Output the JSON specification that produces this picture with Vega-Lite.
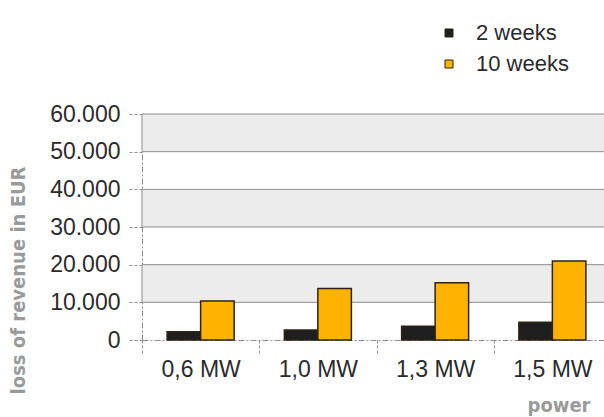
{
  "$schema": "https://vega.github.io/schema/vega-lite/v6.json",
  "width": 469,
  "height": 226,
  "autosize": "none",
  "padding": {"left": 142, "top": 114, "right": 0, "bottom": 77},
  "background": "white",
  "config": {
    "view": {"stroke": null},
    "font": "Liberation Sans",
    "axis": {
      "labelOverlap": false,
      "labelFontSize": 23,
      "labelColor": "#2b2b2b",
      "titleFont": "DejaVu Sans Condensed",
      "titleFontWeight": "bold",
      "titleFontSize": 20,
      "titleColor": "#9a9a9a",
      "tickColor": "#8e8e8e",
      "tickDash": [3, 2],
      "domainColor": "#8e8e8e",
      "domainDash": [6, 2, 2, 2],
      "grid": false
    }
  },
  "datasets": {
    "bands": [
      {"lo": 10000, "hi": 20000},
      {"lo": 30000, "hi": 40000},
      {"lo": 50000, "hi": 60000}
    ],
    "loss": [
      {"power": "0,6 MW", "duration": "2 weeks", "value": 2200},
      {"power": "0,6 MW", "duration": "10 weeks", "value": 10350},
      {"power": "1,0 MW", "duration": "2 weeks", "value": 2650},
      {"power": "1,0 MW", "duration": "10 weeks", "value": 13700},
      {"power": "1,3 MW", "duration": "2 weeks", "value": 3630},
      {"power": "1,3 MW", "duration": "10 weeks", "value": 15200},
      {"power": "1,5 MW", "duration": "2 weeks", "value": 4700},
      {"power": "1,5 MW", "duration": "10 weeks", "value": 20950}
    ]
  },
  "layer": [
    {
      "data": {"name": "bands"},
      "mark": {"type": "rect", "fill": "#ececec", "stroke": "#8e8e8e", "strokeWidth": 1},
      "encoding": {
        "y": {
          "field": "lo",
          "type": "quantitative",
          "scale": {"domain": [0, 60000]},
          "axis": {
            "title": "loss of revenue in EUR",
            "titleAngle": -90,
            "titleAlign": "center",
            "titleBaseline": "middle",
            "titleAnchor": null,
            "titleX": -124,
            "titleY": 166,
            "values": [0, 10000, 20000, 30000, 40000, 50000, 60000],
            "labelExpr": "replace(format(datum.value, ','), ',', '.')",
            "labelPadding": 8,
            "labelOverlap": false,
            "tickSize": 14
          }
        },
        "y2": {"field": "hi"}
      }
    },
    {
      "data": {"name": "loss"},
      "mark": {"type": "bar", "stroke": "#2b2412", "strokeWidth": 1.5},
      "encoding": {
        "x": {
          "field": "power",
          "type": "nominal",
          "sort": ["0,6 MW", "1,0 MW", "1,3 MW", "1,5 MW"],
          "scale": {"paddingInner": 0, "paddingOuter": 0},
          "axis": {
            "title": "power",
            "titleAlign": "right",
            "titleBaseline": "middle",
            "titleAnchor": null,
            "titleX": 448,
            "titleY": 65,
            "labelAngle": 0,
            "labelPadding": 3,
            "labelOverlap": false,
            "tickBand": "extent",
            "tickSize": 15
          }
        },
        "xOffset": {
          "field": "duration",
          "type": "nominal",
          "sort": ["2 weeks", "10 weeks"],
          "scale": {"paddingInner": 0, "paddingOuter": 0.75}
        },
        "y": {
          "field": "value",
          "type": "quantitative",
          "scale": {"domain": [0, 60000]},
          "axis": {
            "title": "loss of revenue in EUR",
            "titleAngle": -90,
            "titleAlign": "center",
            "titleBaseline": "middle",
            "titleAnchor": null,
            "titleX": -124,
            "titleY": 166,
            "values": [0, 10000, 20000, 30000, 40000, 50000, 60000],
            "labelExpr": "replace(format(datum.value, ','), ',', '.')",
            "labelPadding": 8,
            "labelOverlap": false,
            "tickSize": 14
          }
        },
        "color": {
          "field": "duration",
          "type": "nominal",
          "sort": ["2 weeks", "10 weeks"],
          "scale": {"domain": ["2 weeks", "10 weeks"], "range": ["#1e1e1e", "#ffb300"]},
          "legend": {
            "title": null,
            "orient": "none",
            "legendX": 296,
            "legendY": -92,
            "padding": 0,
            "symbolType": "square",
            "symbolSize": 64,
            "symbolStrokeColor": "#2b2412",
            "symbolStrokeWidth": 1,
            "labelFontSize": 22,
            "labelColor": "#2b2b2b",
            "labelOffset": 16,
            "rowPadding": 9
          }
        }
      }
    }
  ]
}
